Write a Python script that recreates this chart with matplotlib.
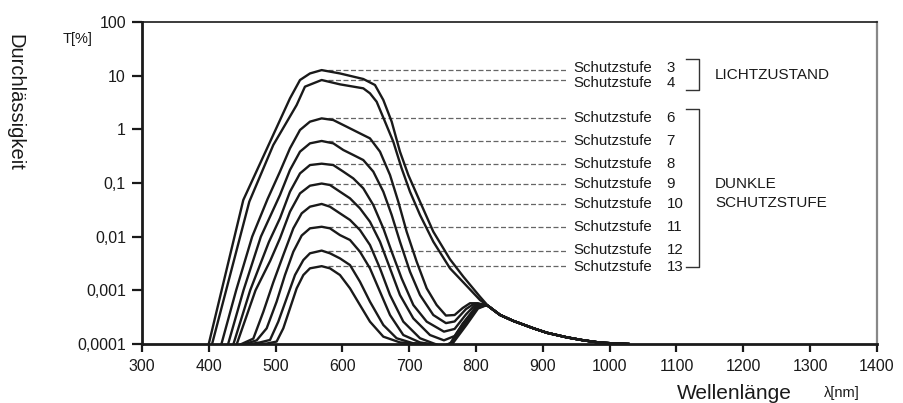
import matplotlib
matplotlib.use('Agg')
import matplotlib.pyplot as plt
from matplotlib.ticker import FixedLocator, NullLocator

plt.rcParams['font.family'] = ['Liberation Sans', 'DejaVu Sans']

# shared infrared tail (nm, T%)
tail_nm = [836, 856, 886, 906, 936, 961, 986, 1010, 1028]
tail_t = [3.48e-4, 2.69e-4, 1.96e-4, 1.62e-4, 1.33e-4, 1.17e-4, 1.06e-4, 1.02e-4, 1.0e-4]

s3_nm = [400, 451.7, 486.7, 521.6, 536.6, 551.5, 569, 596.4, 631.3, 648.8, 661.3, 673.8, 686.2,
         698.7, 716.2, 736.1, 761, 781, 806, 818]
s3_t = [1e-4, 0.0482, 0.427, 3.78, 8.30, 11.0, 12.7, 11.0, 8.67, 6.70, 3.52, 1.39, 0.384,
        0.141, 0.0449, 0.0124, 0.0038, 0.0018, 7.6e-4, 5.13e-4]

s4_nm = [405, 460.7, 496.6, 531.6, 544, 569, 596.4, 631.3, 641.3, 651.3, 663.8, 676.2, 688.7,
         701.2, 716.2, 736.1, 761.1, 781, 806, 818]
s4_t = [1e-4, 0.0449, 0.51, 2.84, 6.24, 8.3, 6.89, 5.81, 4.69, 3.27, 1.39, 0.589, 0.1875,
        0.0689, 0.0254, 0.00807, 0.00257, 0.00141, 6.6e-4, 5.13e-4]

s6_nm = [419, 441, 465, 488, 506.6, 521.6, 536.6, 551.5, 569, 586.4, 606.4, 626.3, 641.3, 656.3,
         671.3, 683.7, 696.2, 711.2, 726.2, 741.1, 755, 768, 780, 791, 803, 818]
s6_t = [1e-4, 0.001, 0.01, 0.0501, 0.163, 0.443, 0.973, 1.39, 1.60, 1.49, 1.12, 0.841, 0.679, 0.384,
        0.141, 0.0449, 0.0124, 0.00342, 0.00109, 5.33e-4, 3.39e-4, 3.47e-4, 4.68e-4, 5.75e-4, 5.75e-4, 5.13e-4]

s7_nm = [429, 452, 478, 506.6, 521.6, 536.6, 551.5, 569, 586.4, 601.4, 616.3, 631.3, 646.3, 661.3,
         673.8, 686.2, 701.2, 716.2, 736.1, 755, 768, 785, 797, 808, 818]
s7_t = [1e-4, 0.001, 0.01, 0.0597, 0.175, 0.384, 0.548, 0.607, 0.548, 0.412, 0.333, 0.268, 0.163, 0.0689,
        0.0254, 0.00807, 0.00223, 8.18e-4, 3.47e-4, 2.45e-4, 2.63e-4, 4.47e-4, 5.62e-4, 5.5e-4, 5.13e-4]

s8_nm = [437, 462, 490, 506.6, 521.6, 536.6, 551.5, 569, 586.4, 601.4, 616.3, 631.3, 646.3, 661.3,
         673.8, 688.7, 706.2, 726.2, 752, 768, 785, 798, 810, 818]
s8_t = [1e-4, 0.001, 0.00794, 0.022, 0.0689, 0.151, 0.216, 0.229, 0.216, 0.163, 0.122, 0.0796, 0.0389, 0.0143,
        0.00525, 0.00167, 5.33e-4, 2.61e-4, 1.7e-4, 1.91e-4, 3.55e-4, 5.25e-4, 5.37e-4, 5.13e-4]

s9_nm = [442, 470, 492, 506.6, 521.6, 536.6, 551.5, 569, 581.4, 596.4, 611.4, 626.3, 641.3, 656.3,
         671.3, 686.2, 706.2, 731.1, 752, 768, 785, 800, 812, 818]
s9_t = [1e-4, 0.001, 0.00355, 0.0093, 0.0292, 0.0641, 0.0891, 0.0977, 0.0918, 0.0689, 0.0518, 0.0337, 0.019, 0.00807,
        0.00257, 8.18e-4, 3.0e-4, 1.47e-4, 1.17e-4, 1.41e-4, 2.82e-4, 5.01e-4, 5.37e-4, 5.13e-4]

s10_nm = [449, 466.7, 481.7, 496.6, 511.6, 526.6, 539.1, 551.5, 569, 581.4, 596.4, 611.4, 626.3, 641.3,
          656.3, 671.3, 691.2, 716.2, 736.1, 750, 762, 780, 800, 812, 818]
s10_t = [1e-4, 1.26e-4, 3.98e-4, 0.00141, 0.00455, 0.0143, 0.0272, 0.0362, 0.0407, 0.0362, 0.0272, 0.0205, 0.0133, 0.007,
         0.00257, 8.18e-4, 2.61e-4, 1.28e-4, 1.03e-4, 8.9e-5, 1.05e-4, 2.4e-4, 4.79e-4, 5.25e-4, 5.13e-4]

s11_nm = [454, 471.7, 486.7, 501.6, 514.1, 526.6, 539.1, 551.5, 569, 581.4, 596.4, 611.4, 626.3, 641.3,
          656.3, 671.3, 691.2, 716.2, 731, 748, 763, 782, 801, 813, 818]
s11_t = [1e-4, 1.17e-4, 1.96e-4, 6.15e-4, 0.00193, 0.00525, 0.0105, 0.0143, 0.0153, 0.0143, 0.0107, 0.00867, 0.00525, 0.00257,
         9.44e-4, 3.47e-4, 1.47e-4, 1.07e-4, 1.0e-4, 8.9e-5, 1.02e-4, 2.4e-4, 4.68e-4, 5.25e-4, 5.13e-4]

s12_nm = [462, 476.7, 491.7, 504.1, 516.6, 529.1, 541.6, 551.5, 569, 581.4, 596.4, 611.4, 626.3, 641.3,
          661.3, 681.2, 706.2, 730, 750, 764, 784, 802, 814, 818]
s12_t = [1e-4, 1.07e-4, 1.19e-4, 2.61e-4, 7.1e-4, 0.00193, 0.00367, 0.0049, 0.0055, 0.0049, 0.00394, 0.00296, 0.00145, 6.15e-4,
         2.26e-4, 1.28e-4, 1.03e-4, 1.0e-4, 8.9e-5, 1.02e-4, 2.34e-4, 4.68e-4, 5.25e-4, 5.13e-4]

s13_nm = [472, 486.7, 501.6, 511.6, 521.6, 531.6, 541.6, 551.5, 569, 581.4, 596.4, 611.4, 626.3, 641.3,
          661.3, 686.2, 706.2, 730, 752, 765, 786, 803, 815, 818]
s13_t = [1e-4, 1.02e-4, 1.11e-4, 1.96e-4, 4.62e-4, 0.00109, 0.00193, 0.00257, 0.00282, 0.00257, 0.00193, 0.00109, 5.33e-4, 2.61e-4,
         1.37e-4, 1.07e-4, 1.03e-4, 1.0e-4, 8.9e-5, 1.02e-4, 2.29e-4, 4.57e-4, 5.25e-4, 5.13e-4]

stufen = [3, 4, 6, 7, 8, 9, 10, 11, 12, 13]
curves_nm = [s3_nm, s4_nm, s6_nm, s7_nm, s8_nm, s9_nm, s10_nm, s11_nm, s12_nm, s13_nm]
curves_t = [s3_t, s4_t, s6_t, s7_t, s8_t, s9_t, s10_t, s11_t, s12_t, s13_t]

x_ticks = [300, 400, 500, 600, 700, 800, 900, 1000, 1100, 1200, 1300, 1400]
y_ticks = [0.0001, 0.001, 0.01, 0.1, 1, 10, 100]
y_labels = ['0,0001', '0,001', '0,01', '0,1', '1', '10', '100']

fig = plt.figure(figsize=(9.04, 4.03), dpi=100)
ax = fig.add_axes([0.157, 0.1464, 0.813, 0.799])
ax.set_yscale('log')
ax.set_xlim(300, 1400)
ax.set_ylim(1e-4, 100)

for nm, t in zip(curves_nm, curves_t):
    ax.plot(nm + tail_nm, t + tail_t, color='#1a1a1a', linewidth=1.7, solid_joinstyle='round', zorder=3)

# dashed leader lines and labels (3 and 4 sit very close, nudge them apart)
nudge = {3: 1.5, 4: -2.5, 12: 0.5, 13: -0.5}
for st, t in zip(stufen, curves_t):
    peak = max(t)
    dy = nudge.get(st, 0)
    ax.plot([578, 937], [peak, peak], color='#666666', linewidth=0.9, dashes=(4, 2), zorder=2)
    ax.annotate('Schutzstufe', (945, peak), xytext=(0, dy), textcoords='offset points',
                fontsize=10.8, va='center', ha='left', color='#1a1a1a')
    ax.annotate(str(st), (1085, peak), xytext=(0, dy), textcoords='offset points',
                fontsize=10.8, va='center', ha='left', color='#1a1a1a')

# brackets
bk = dict(color='#333333', linewidth=1.0, clip_on=False)
ax.plot([1115, 1134, 1134, 1115], [20.2, 20.2, 5.4, 5.4], **bk)
ax.plot([1115, 1134, 1134, 1115], [2.36, 2.36, 0.00275, 0.00275], **bk)
ax.text(1158, 10.3, 'LICHTZUSTAND', fontsize=11, va='center', ha='left', color='#1a1a1a')
ax.text(1158, 0.065, 'DUNKLE\nSCHUTZSTUFE', fontsize=11, va='center', ha='left',
        color='#1a1a1a', linespacing=1.45)

ax.xaxis.set_major_locator(FixedLocator(x_ticks))
ax.yaxis.set_major_locator(FixedLocator(y_ticks))
ax.yaxis.set_minor_locator(NullLocator())
ax.set_yticklabels(y_labels)
ax.tick_params(axis='both', labelsize=11.5, color='#1a1a1a', labelcolor='#1a1a1a', width=1.6)
ax.tick_params(axis='y', length=7.5, pad=4)
ax.tick_params(axis='x', length=6, pad=5)

ax.spines['left'].set_linewidth(2)
ax.spines['bottom'].set_linewidth(2)
ax.spines['left'].set_color('#1a1a1a')
ax.spines['bottom'].set_color('#1a1a1a')
ax.spines['top'].set_linewidth(1.2)
ax.spines['top'].set_color('#1a1a1a')
ax.spines['right'].set_linewidth(1.6)
ax.spines['right'].set_color('#888888')

fig.text(0.017, 0.745, 'Durchlässigkeit', rotation=-90, fontsize=14.5, ha='center', va='center', color='#1a1a1a')
fig.text(0.086, 0.902, 'T[%]', fontsize=10.5, ha='center', va='center', color='#1a1a1a')
fig.text(0.812, 0.024, 'Wellenlänge', fontsize=15, ha='center', va='center', color='#1a1a1a')
fig.text(0.931, 0.024, 'λ[nm]', fontsize=10.5, ha='center', va='center', color='#1a1a1a')

fig.savefig('out.png', dpi=100)
